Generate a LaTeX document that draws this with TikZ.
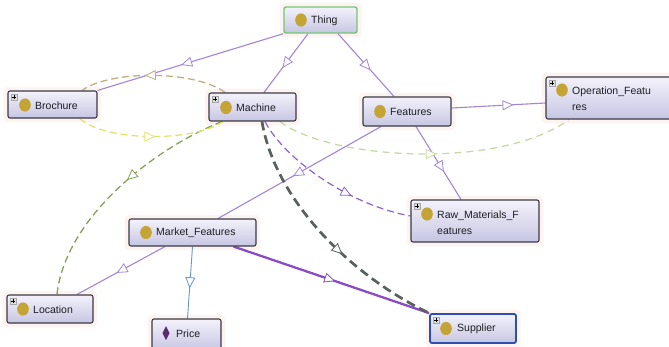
\documentclass[tikz,border=0pt]{standalone}
\usepackage{fontspec}
\setmainfont{Liberation Sans}
\usetikzlibrary{arrows.meta,decorations.markings}

\definecolor{isacol}{HTML}{A486D8}
\definecolor{suppcol}{HTML}{8A4CC4}
\definecolor{pricecol}{HTML}{6A96C0}
\definecolor{graycol}{HTML}{59615C}
\definecolor{pdashcol}{HTML}{8A63D6}
\definecolor{lgreencol}{HTML}{C8DAA4}
\definecolor{olivecol}{HTML}{86A05A}
\definecolor{tancol}{HTML}{C0AE80}
\definecolor{yellowcol}{HTML}{E2E46A}
\definecolor{dotcol}{HTML}{C3A435}
\definecolor{diacol}{HTML}{5B2A6E}
\definecolor{boxtop}{HTML}{F3F2FB}
\definecolor{boxbot}{HTML}{C7C6E3}
\definecolor{boxline}{HTML}{3A3A44}
\definecolor{thingcol}{HTML}{72C872}
\definecolor{suppline}{HTML}{2C4EAE}
\definecolor{halocol}{HTML}{FDF3F1}
\definecolor{txtcol}{HTML}{1E1E24}

\pgfdeclarelayer{halo}
\pgfdeclarelayer{edges}
\pgfsetlayers{halo,edges,main}

\tikzset{
  x=1pt, y=-1pt,
  Tri/.tip={Triangle[length=11pt,width=10pt,fill=white,line width=0.8pt]},
  midtip/.style={postaction={decorate},
    decoration={markings, mark=at position #1 with {\arrow{Tri}}}},
  box/.style={draw=boxline, line width=1.1pt, rounded corners=2pt,
    top color=boxtop, bottom color=boxbot, inner sep=0pt},
  lbl/.style={anchor=west, inner sep=0pt, text=txtcol,
    font=\fontsize{10.5}{16}\selectfont},
  isa/.style={draw=isacol, line width=1.1pt},
  supplink/.style={draw=suppcol, line width=2.3pt},
  pricelink/.style={draw=pricecol, line width=0.9pt},
  graydash/.style={draw=graycol, line width=2.7pt, dash pattern=on 9pt off 5pt},
  pdash/.style={draw=pdashcol, line width=1.2pt, dash pattern=on 7pt off 4pt},
  lgdash/.style={draw=lgreencol, line width=1.3pt, dash pattern=on 7pt off 5pt},
  oldash/.style={draw=olivecol, line width=1.3pt, dash pattern=on 7pt off 4pt},
  tandash/.style={draw=tancol, line width=1.3pt, dash pattern=on 7pt off 4pt},
  yedash/.style={draw=yellowcol, line width=1.3pt, dash pattern=on 7pt off 4pt},
}

% class box: name, x1, y1, x2, y2, extra style
\newcommand\klass[6]{%
  \node[box,#6,minimum width={(#4)-(#2)},minimum height={(#5)-(#3)}]
    (#1) at ({((#2)+(#4))/2},{((#3)+(#5))/2}) {};
  \begin{pgfonlayer}{halo}
    \fill[halocol, rounded corners=4pt]
      ([shift={(-3.5pt,-3.5pt)}]#1.south west) rectangle ([shift={(3.5pt,3.5pt)}]#1.north east);
  \end{pgfonlayer}}
% small expand marker in a box corner
\newcommand\plusmark[2]{%
  \draw[gray!70, fill=gray!25, line width=0.4pt] ({#1-3},{#2-3}) rectangle ({#1+3},{#2+3});
  \draw[black, line width=0.6pt] ({#1-2},{#2}) -- ({#1+2},{#2}) ({#1},{#2-2}) -- ({#1},{#2+2});}
\newcommand\classdot[2]{\fill[dotcol] (#1,#2) ellipse (5.8pt and 6.6pt);}

\begin{document}
\begin{tikzpicture}
\useasboundingbox (0,0) rectangle (669,346);
\begin{pgfonlayer}{halo}
  \fill[white] (0,0) rectangle (669,346);
\end{pgfonlayer}

% classes
\klass{thing}{284}{7}{357}{33}{draw=thingcol, line width=1.4pt}
\classdot{301}{20}
\node[lbl] (thing-t) at (311,20.5) {Thing};

\klass{brochure}{8}{91}{97}{118}{}
\plusmark{14}{97}
\classdot{25}{105}
\node[lbl] (brochure-t) at (35,105.5) {Brochure};

\klass{machine}{209}{93}{296}{121}{}
\plusmark{215}{99}
\classdot{226}{107.5}
\node[lbl] (machine-t) at (236,108) {Machine};

\klass{features}{363}{97}{451}{126}{}
\classdot{380}{111.5}
\node[lbl] (features-t) at (390,112) {Features};

\klass{operation}{546}{77}{672}{119}{}
\plusmark{552}{83}
\classdot{562}{90}
\node[lbl, align=left] (operation-t) at (572,99) {Operation\_Featu\\res};

\klass{raw}{411}{200}{539}{242}{}
\plusmark{417}{206}
\classdot{427}{214}
\node[lbl, align=left] (raw-t) at (437,222.5) {Raw\_Materials\_F\\eatures};

\klass{market}{129}{219}{256}{246}{}
\classdot{146}{232.5}
\node[lbl] (market-t) at (156,233) {Market\_Features};

\klass{location}{7}{295}{93}{323}{}
\plusmark{13}{301}
\classdot{23}{309}
\node[lbl] (location-t) at (33,309.5) {Location};

\klass{price}{152}{319}{221}{350}{}
\fill[diacol] (166,326) -- (169.5,333) -- (166,340) -- (162.5,333) -- cycle;
\node[lbl] (price-t) at (176,333.5) {Price};

\klass{supplier}{430}{314}{516}{343}{draw=suppline, line width=1.8pt}
\plusmark{436}{320}
\classdot{446}{328.5}
\node[lbl] (supplier-t) at (457,329) {Supplier};

% relations
\begin{pgfonlayer}{edges}
  % subclass links
  \draw[isa, midtip=0.55] (thing.south west) -- (brochure.north east);
  \draw[isa, midtip=0.58] ([xshift=-12.5pt]thing.south) -- ([xshift=11.5pt]machine.north);
  \draw[isa, midtip=0.58] ([xshift=17.5pt]thing.south) -- ([xshift=-13pt]features.north);
  \draw[isa, midtip=0.66] ([yshift=3.5pt]features.east) -- ([yshift=-5pt]operation.west);
  \draw[isa, midtip=0.62] ([xshift=9pt]features.south) -- ([xshift=-14pt]raw.north);
  \draw[isa, midtip=0.54] ([xshift=-26pt]features.south) -- ([xshift=25.5pt]market.north);
  \draw[isa, midtip=0.55] ([xshift=-27.5pt]market.south) -- ([xshift=27pt]location.north);
  \draw[pricelink, midtip=0.58] (market.south) -- ([xshift=1pt]price.north);
  \draw[supplink, midtip=0.52] ([xshift=-23pt]market.south east) -- (supplier.north west);

  % object properties
  \draw[graydash, midtip=0.6] ([xshift=9.5pt]machine.south)
    .. controls (275,200) and (350,275) .. (supplier.north west);
  \draw[pdash, midtip=0.65] ([xshift=12.5pt]machine.south)
    .. controls (285,160) and (350,205) .. ([yshift=5pt]raw.west);
  \draw[lgdash, midtip=0.54] ([xshift=27.5pt]machine.south)
    .. controls (330,160) and (500,170) .. ([xshift=-40pt]operation.south);
  \draw[oldash, midtip=0.45] ([xshift=-30.5pt]machine.south)
    .. controls (150,150) and (65,220) .. ([xshift=7pt]location.north);
  \draw[tandash, midtip=0.56] ([xshift=-27.5pt]machine.north)
    .. controls (195,70) and (110,70) .. ([xshift=29.5pt]brochure.north);
  \draw[yedash, midtip=0.53] ([xshift=27.5pt]brochure.south)
    .. controls (105,142) and (195,142) .. ([xshift=-29.5pt]machine.south);
\end{pgfonlayer}
\end{tikzpicture}
\end{document}
